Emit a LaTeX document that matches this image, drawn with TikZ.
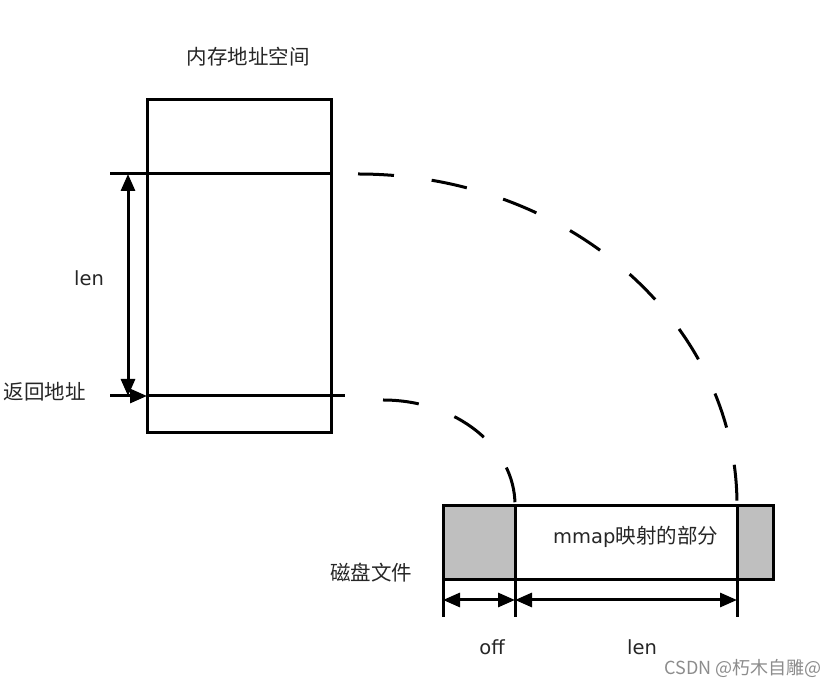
\documentclass[tikz,border=0pt]{standalone}
\usepackage{fontspec}
\setmainfont{DejaVu Sans}
\newfontfamily\cjk{Noto Sans CJK SC}
\usetikzlibrary{arrows.meta}
\begin{document}
\begin{tikzpicture}[x=1pt,y=1pt,
  ln/.style={line width=3pt},
  dimarrow/.style={line width=3pt,{Triangle[length=17pt,width=14pt]}-{Triangle[length=17pt,width=14pt]}},
  dashline/.style={line width=3pt,dash pattern=on 36pt off 38pt},
  lat/.style={font=\fontsize{19.5}{22}\selectfont,text=black!85,inner sep=0pt},
  han/.style={font=\cjk\fontsize{20.5}{24}\selectfont,text=black!85,inner sep=0pt},
  graybox/.style={fill=black!25,draw=none}]
\useasboundingbox (0,0) rectangle (833,690);
% memory space
\coordinate (mTL) at (147,590);
\coordinate (mBR) at (331,257);
\draw[ln] (mTL) rectangle (mBR);
\coordinate (lt0) at (110,516);
\coordinate (lt1) at (331,516);
\coordinate (lb0) at (110,294);
\coordinate (lbm) at (147,294);
\coordinate (lb1) at (345,294);
\draw[ln] (lt0) -- (lt1);
\draw[ln] (lbm) -- (lb1);
\draw[ln,-{Triangle[length=17pt,width=14pt]}] (lb0) -- (lbm);
\coordinate (va) at (128,516);
\coordinate (vb) at (128,294);
\draw[dimarrow] (va) -- (vb);
\node[han] (title) at (248,633) {内存地址空间};
\node[lat] (lenL) at (89,412) {len};
\node[han,anchor=east] (ret) at (86,298) {返回地址};
% arcs
\coordinate (o0) at (358,516);
\coordinate (i0) at (383,290);
\draw[dashline] (o0) arc[start angle=90,end angle=0,x radius=379,y radius=331] coordinate (o1);
\draw[dashline] (i0) arc[start angle=90,end angle=0,x radius=132,y radius=105] coordinate (i1);
% disk file
\coordinate (dL) at (443,184);
\coordinate (dR) at (773,110);
\fill[graybox] (443,184) rectangle (515,110);
\fill[graybox] (737,184) rectangle (773,110);
\draw[ln] (dL) rectangle (dR);
\coordinate (f0) at (443,73);
\coordinate (f1) at (515,73);
\coordinate (f2) at (737,73);
\draw[ln] (dL) -- (f0);
\draw[ln] (i1) -- (f1);
\draw[ln] (o1) -- (f2);
\coordinate (a0) at (443,90);
\coordinate (a1) at (515,90);
\coordinate (a2) at (737,90);
\draw[dimarrow] (a0) -- (a1);
\draw[dimarrow] (a1) -- (a2);
\node[lat,anchor=west] (mm) at (553,153) {mmap{\cjk\fontsize{20.5}{24}\selectfont 映射的部分}};
\node[han] (disk) at (371,117) {磁盘文件};
\node[lat] (off) at (492,43) {off};
\node[lat] (lenB) at (642,43) {len};
\node[font=\cjk\fontsize{18}{20}\selectfont,text=black!45,anchor=east,inner sep=0pt] (wm) at (822,22) {CSDN @朽木自雕@};
\end{tikzpicture}
\end{document}
